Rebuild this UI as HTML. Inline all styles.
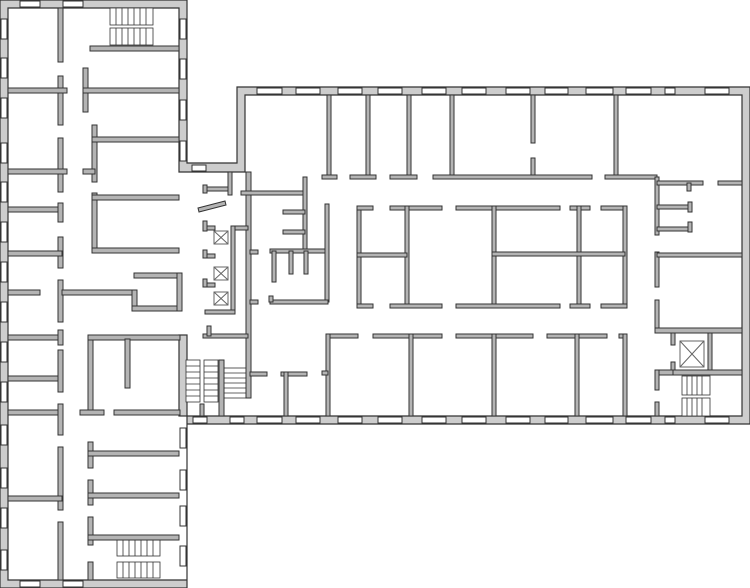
<!DOCTYPE html>
<html><head><meta charset="utf-8"><style>
html,body{margin:0;padding:0;background:#fff;}
svg{display:block}
.o{fill:#cdcdcd;stroke:#333;stroke-width:1.2;fill-rule:evenodd}
.w{fill:#b4b4b4;stroke:#333;stroke-width:1}
.win{fill:#fff;stroke:#333;stroke-width:1}
.st{fill:#fff;stroke:#333;stroke-width:0.8}
.x{fill:#fff;stroke:#666;stroke-width:1}
</style></head><body>
<svg width="750" height="588" viewBox="0 0 750 588" xmlns="http://www.w3.org/2000/svg">
<!-- outer walls -->
<path class="o" d="M0,0 H187 V163 H237 V87 H750 V424 H187 V588 H0 Z
M8,8 H179 V172 H245 V95 H742 V416 H187 V580 H8 Z"/>
<rect class="o" x="179" y="335" width="8" height="81"/>
<!-- windows left wing left wall -->
<g class="win">
<rect x="1" y="19" width="6" height="20"/><rect x="1" y="58" width="6" height="20"/><rect x="1" y="98" width="6" height="20"/><rect x="1" y="143" width="6" height="20"/><rect x="1" y="182" width="6" height="20"/><rect x="1" y="222" width="6" height="20"/><rect x="1" y="262" width="6" height="20"/><rect x="1" y="302" width="6" height="20"/><rect x="1" y="342" width="6" height="20"/><rect x="1" y="382" width="6" height="20"/><rect x="1" y="425" width="6" height="20"/><rect x="1" y="468" width="6" height="20"/><rect x="1" y="508" width="6" height="20"/><rect x="1" y="550" width="6" height="20"/>
<rect x="180" y="19" width="6" height="20"/><rect x="180" y="59" width="6" height="20"/><rect x="180" y="100" width="6" height="20"/><rect x="180" y="141" width="6" height="20"/>
<rect x="180" y="428" width="6" height="20"/><rect x="180" y="470" width="6" height="20"/><rect x="180" y="506" width="6" height="20"/><rect x="180" y="546" width="6" height="20"/>
<rect x="20" y="1" width="20" height="6"/><rect x="63" y="1" width="20" height="6"/>
<rect x="20" y="581" width="20" height="6"/><rect x="63" y="581" width="20" height="6"/>
<rect x="192" y="165" width="14" height="6"/>
<rect x="193" y="417" width="14" height="6"/><rect x="230" y="417" width="14" height="6"/>
<rect x="257" y="88" width="25" height="6"/><rect x="296" y="88" width="24" height="6"/><rect x="338" y="88" width="24" height="6"/><rect x="378" y="88" width="24" height="6"/><rect x="422" y="88" width="24" height="6"/><rect x="462" y="88" width="24" height="6"/><rect x="506" y="88" width="24" height="6"/><rect x="545" y="88" width="23" height="6"/><rect x="586" y="88" width="27" height="6"/><rect x="626" y="88" width="25" height="6"/><rect x="665" y="88" width="10" height="6"/><rect x="705" y="88" width="24" height="6"/>
<rect x="257" y="417" width="25" height="6"/><rect x="296" y="417" width="24" height="6"/><rect x="338" y="417" width="24" height="6"/><rect x="378" y="417" width="24" height="6"/><rect x="422" y="417" width="24" height="6"/><rect x="462" y="417" width="24" height="6"/><rect x="506" y="417" width="24" height="6"/><rect x="545" y="417" width="23" height="6"/><rect x="586" y="417" width="27" height="6"/><rect x="626" y="417" width="25" height="6"/><rect x="665" y="417" width="10" height="6"/><rect x="705" y="417" width="24" height="6"/>
</g>
<!-- stairs left wing -->
<g class="st">
<rect x="110" y="8" width="43" height="17"/><rect x="110" y="28" width="43" height="17"/>
<path d="M116,8V25M122,8V25M128,8V25M134,8V25M140,8V25M146,8V25M116,28V45M122,28V45M128,28V45M134,28V45M140,28V45M146,28V45"/>
<rect x="117" y="540" width="43" height="16"/><rect x="117" y="562" width="43" height="16"/>
<path d="M123,540V556M129,540V556M135,540V556M141,540V556M147,540V556M153,540V556M123,562V578M129,562V578M135,562V578M141,562V578M147,562V578M153,562V578"/>
<rect x="186" y="360" width="14" height="42"/><rect x="204" y="360" width="14" height="42"/>
<path d="M186,366H200M186,372H200M186,378H200M186,384H200M186,390H200M186,396H200M204,366H218M204,372H218M204,378H218M204,384H218M204,390H218M204,396H218"/>
<rect x="224" y="368" width="22" height="30"/>
<path d="M224,373H246M224,378H246M224,383H246M224,388H246M224,393H246"/>
<rect x="682" y="376" width="28" height="19"/><rect x="682" y="398" width="28" height="18"/>
<path d="M687,376V395M692,376V395M697,376V395M702,376V395M687,398V416M692,398V416M697,398V416M702,398V416"/>
</g>
<!-- left wing interior walls -->
<g class="w">
<rect x="58" y="8" width="5" height="54"/>
<rect x="90" y="46" width="89" height="5"/>
<rect x="58" y="76" width="5" height="49"/><rect x="8" y="88" width="59" height="5"/>
<rect x="83" y="68" width="5" height="44"/><rect x="83" y="88" width="96" height="5"/>
<rect x="92" y="125" width="5" height="57"/><rect x="92" y="137" width="87" height="5"/>
<rect x="58" y="138" width="5" height="54"/><rect x="8" y="169" width="59" height="5"/><rect x="83" y="169" width="12" height="5"/>
<rect x="8" y="207" width="54" height="5"/><rect x="58" y="203" width="5" height="19"/>
<rect x="92" y="193" width="5" height="59"/><rect x="92" y="195" width="87" height="5"/><rect x="92" y="248" width="87" height="5"/>
<rect x="58" y="237" width="5" height="31"/><rect x="8" y="251" width="54" height="5"/>
<rect x="8" y="290" width="32" height="5"/><rect x="58" y="280" width="5" height="42"/><rect x="62" y="290" width="74" height="5"/>
<rect x="132" y="290" width="5" height="20"/><rect x="132" y="306" width="49" height="5"/><rect x="134" y="273" width="47" height="5"/><rect x="177" y="273" width="5" height="38"/>
<rect x="8" y="335" width="52" height="5"/><rect x="58" y="330" width="5" height="15"/>
<rect x="88" y="335" width="5" height="77"/><rect x="88" y="335" width="92" height="5"/><rect x="125" y="339" width="5" height="49"/>
<rect x="80" y="410" width="24" height="5"/><rect x="114" y="410" width="66" height="5"/>
<rect x="8" y="376" width="54" height="5"/><rect x="58" y="350" width="5" height="42"/>
<rect x="8" y="410" width="54" height="5"/><rect x="58" y="404" width="5" height="31"/>
<rect x="58" y="447" width="5" height="63"/><rect x="8" y="496" width="54" height="5"/>
<rect x="58" y="522" width="5" height="58"/>
<rect x="88" y="442" width="5" height="26"/><rect x="88" y="451" width="91" height="5"/>
<rect x="88" y="480" width="5" height="25"/><rect x="88" y="493" width="91" height="5"/>
<rect x="88" y="517" width="5" height="28"/><rect x="88" y="535" width="91" height="5"/>
<rect x="88" y="562" width="5" height="18"/>
</g>
<!-- middle section -->
<g class="w">
<rect x="246" y="172" width="5" height="226"/>
<rect x="228" y="172" width="4" height="23"/><rect x="205" y="187" width="23" height="4"/><rect x="203" y="185" width="4" height="8"/>
<rect x="241" y="191" width="64" height="4"/>
<polygon points="198,208 225,201 226,205 199,212"/>
<rect x="233" y="226" width="15" height="4"/><rect x="205" y="226" width="10" height="4"/><rect x="203" y="221" width="4" height="10"/>
<rect x="231" y="226" width="4" height="86"/><rect x="205" y="310" width="30" height="4"/>
<rect x="205" y="254" width="10" height="4"/><rect x="205" y="283" width="10" height="4"/><rect x="203" y="250" width="4" height="8"/><rect x="203" y="279" width="4" height="8"/>
<rect x="203" y="334" width="45" height="4"/><rect x="207" y="326" width="4" height="10"/>
<rect x="219" y="360" width="5" height="56"/><rect x="200" y="404" width="4" height="12"/>
<rect x="250" y="372" width="17" height="4"/>
<rect x="281" y="372" width="26" height="4"/><rect x="284" y="372" width="4" height="44"/>
<rect x="303" y="177" width="4" height="74"/><rect x="283" y="210" width="22" height="4"/><rect x="283" y="230" width="22" height="4"/>
<rect x="270" y="249" width="58" height="4"/><rect x="325" y="204" width="4" height="98"/><rect x="270" y="300" width="58" height="4"/>
<rect x="272" y="251" width="4" height="31"/><rect x="289" y="251" width="4" height="23"/><rect x="304" y="251" width="4" height="23"/>
<rect x="269" y="296" width="4" height="6"/><rect x="250" y="250" width="8" height="4"/><rect x="250" y="300" width="8" height="4"/>
</g>
<g class="x">
<rect x="214" y="231" width="14" height="13"/><path d="M214,231L228,244M228,231L214,244"/>
<rect x="214" y="267" width="14" height="13"/><path d="M214,267L228,280M228,267L214,280"/>
<rect x="214" y="292" width="14" height="13"/><path d="M214,292L228,305M228,292L214,305"/>
<rect x="680" y="341" width="24" height="26"/><path d="M680,341L704,367M704,341L680,367"/>
</g>
<!-- right wing -->
<g class="w">
<rect x="327" y="95" width="4" height="81"/><rect x="366" y="95" width="4" height="81"/><rect x="407" y="95" width="4" height="81"/><rect x="450" y="95" width="4" height="81"/>
<rect x="531" y="95" width="4" height="48"/><rect x="531" y="158" width="4" height="18"/><rect x="614" y="95" width="4" height="81"/>
<rect x="322" y="175" width="15" height="4"/><rect x="350" y="175" width="26" height="4"/><rect x="390" y="175" width="27" height="4"/><rect x="433" y="175" width="159" height="4"/><rect x="605" y="175" width="52" height="4"/>
<rect x="655" y="177" width="4" height="58"/><rect x="657" y="181" width="46" height="4"/><rect x="718" y="181" width="24" height="4"/><rect x="687" y="183" width="4" height="8"/>
<rect x="657" y="205" width="33" height="4"/><rect x="688" y="202" width="4" height="10"/>
<rect x="657" y="227" width="33" height="4"/><rect x="688" y="222" width="4" height="10"/>
<rect x="655" y="252" width="4" height="35"/><rect x="657" y="253" width="85" height="4"/>
<rect x="655" y="300" width="4" height="32"/><rect x="655" y="328" width="87" height="5"/>
<rect x="671" y="333" width="4" height="12"/><rect x="671" y="362" width="4" height="12"/>
<rect x="708" y="333" width="4" height="40"/><rect x="671" y="370" width="71" height="5"/>
<rect x="655" y="370" width="18" height="5"/><rect x="655" y="370" width="4" height="20"/><rect x="655" y="402" width="4" height="14"/>
<rect x="357" y="206" width="4" height="100"/><rect x="357" y="206" width="16" height="4"/><rect x="390" y="206" width="52" height="4"/>
<rect x="405" y="206" width="4" height="100"/><rect x="357" y="253" width="50" height="4"/>
<rect x="357" y="304" width="16" height="4"/><rect x="390" y="304" width="52" height="4"/>
<rect x="456" y="206" width="104" height="4"/><rect x="570" y="206" width="20" height="4"/><rect x="601" y="206" width="26" height="4"/>
<rect x="492" y="206" width="4" height="100"/><rect x="577" y="206" width="4" height="100"/><rect x="623" y="206" width="4" height="100"/>
<rect x="492" y="252" width="133" height="4"/>
<rect x="456" y="304" width="104" height="4"/><rect x="570" y="304" width="20" height="4"/><rect x="601" y="304" width="26" height="4"/>
<rect x="327" y="334" width="31" height="4"/><rect x="373" y="334" width="69" height="4"/><rect x="456" y="334" width="77" height="4"/><rect x="547" y="334" width="60" height="4"/><rect x="619" y="334" width="8" height="4"/>
<rect x="326" y="334" width="4" height="82"/><rect x="409" y="334" width="4" height="82"/><rect x="492" y="334" width="4" height="82"/><rect x="575" y="334" width="4" height="82"/><rect x="623" y="334" width="4" height="82"/>
<rect x="322" y="371" width="6" height="4"/>
</g>
</svg>
</body></html>
